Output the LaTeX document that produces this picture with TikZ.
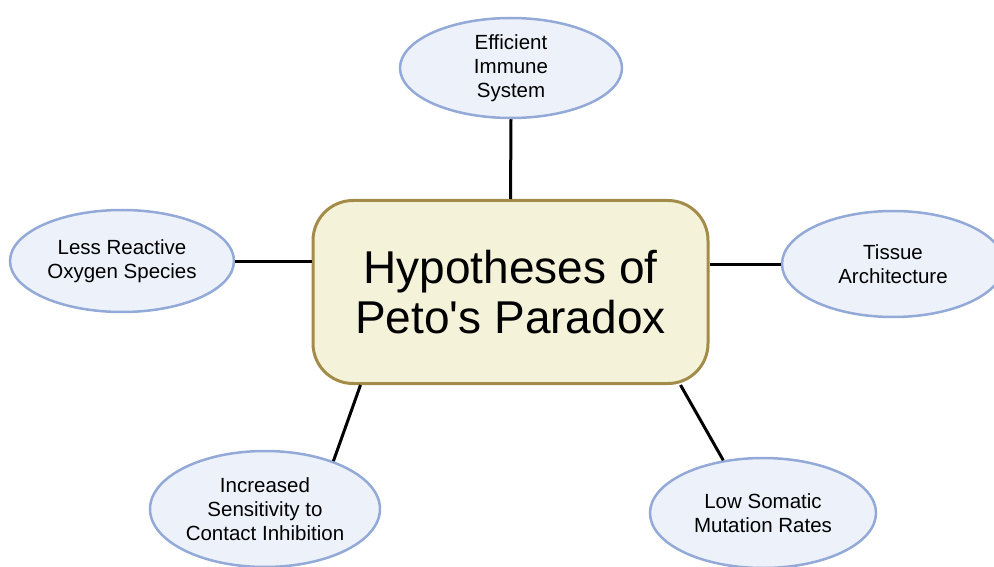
\documentclass[tikz,border=0pt]{standalone}
\usepackage{fontspec}
\setmainfont{Liberation Sans}
\usetikzlibrary{shapes.geometric}
\definecolor{ellfill}{HTML}{EDF1F9}
\definecolor{elldraw}{HTML}{93A9D8}
\definecolor{boxfill}{HTML}{F5F2DA}
\definecolor{boxdraw}{HTML}{A38C4A}
\tikzset{
  hyp/.style={ellipse, draw=elldraw, fill=ellfill, line width=2.5pt, inner sep=0pt,
    align=center, font=\fontsize{20.5}{24}\selectfont},
  mainbox/.style={rectangle, rounded corners=40pt, draw=boxdraw, fill=boxfill, line width=3pt,
    minimum width=395pt, minimum height=183pt, align=center, font=\fontsize{46}{50}\selectfont},
  link/.style={line width=3pt, black}
}
\begin{document}
\begin{tikzpicture}[x=1pt,y=-1pt]
\useasboundingbox (0,0) rectangle (994,567);
\node[mainbox] (c) at (510.5,292) {Hypotheses of\\Peto\textquotesingle s Paradox};
\node[hyp, minimum width=222pt, minimum height=100pt] (t) at (511,68) {Efficient\\Immune\\System};
\node[hyp, minimum width=224pt, minimum height=102pt] (l) at (122,261) {Less Reactive\\Oxygen Species};
\node[hyp, minimum width=222pt, minimum height=106pt] (r) at (893,264) {Tissue\\Architecture};
\node[hyp, minimum width=230pt, minimum height=116pt] (bl) at (265,509) {Increased\\Sensitivity to\\Contact Inhibition};
\node[hyp, minimum width=226pt, minimum height=110pt] (br) at (763,513) {Low Somatic\\Mutation Rates};
\draw[link] (t.south) -- (c.north);
\draw[link] (l.east) -- ([yshift=31pt]c.west);
\draw[link] ([yshift=28pt]c.east) -- (r.west);
\draw[link] ([xshift=-150pt]c.south) -- (bl.35);
\draw[link] ([xshift=170pt]c.south) -- (br.127);
\end{tikzpicture}
\end{document}
